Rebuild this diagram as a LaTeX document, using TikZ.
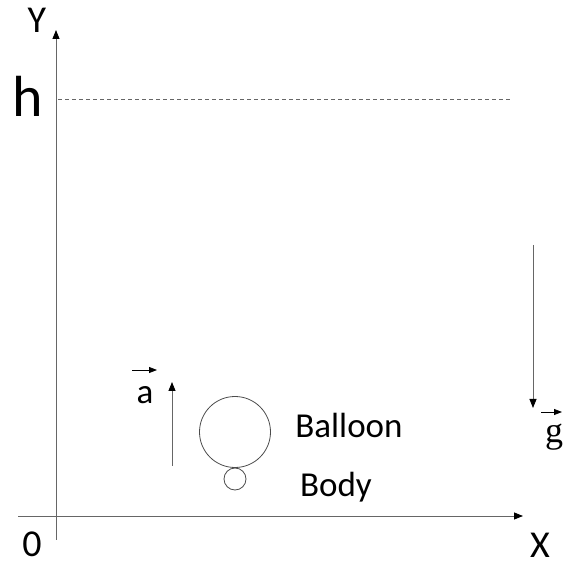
\documentclass[tikz,border=0pt]{standalone}
\usepackage{fontspec}
\setmainfont{Carlito}
\newfontfamily\serifg{Liberation Serif}
\usetikzlibrary{arrows.meta}
\begin{document}
\begin{tikzpicture}[x=1pt,y=1pt,line width=0.8pt,
    inner sep=0pt,
    axis/.style={draw=black!60,-{Triangle[length=9pt,width=7pt,color=black]}},
    vector/.style={draw=black!60,-{Triangle[length=9pt,width=7pt,color=black]}},
    overarrow/.style={draw=black,-{Triangle[length=8pt,width=6pt]}},
    guide/.style={draw=black!60,dash pattern=on 4pt off 3pt},
    body/.style={draw=black!70,circle,minimum size=#1},
    label/.style={font=\fontsize{35}{40}\selectfont},
    axlabel/.style={font=\fontsize{38}{42}\selectfont}]
    \path[use as bounding box] (0,0) rectangle (565,566);
    % axes
    \coordinate (ybot) at (56,26);
    \coordinate (ytop) at (56,536);
    \coordinate (xleft) at (18,50);
    \coordinate (xright) at (523,50);
    \draw[axis] (ybot) -- (ytop);
    \draw[axis] (xleft) -- (xright);
    \node[axlabel] (ylab) at (37,546) {Y};
    \node[axlabel] (xlab) at (540,21) {X};
    \node[axlabel] (orig) at (32,22) {0};
    % height level
    \node[font=\fontsize{58}{62}\selectfont] (hlab) at (28,470) {h};
    \coordinate (hl) at (58,467);
    \coordinate (hr) at (510,467);
    \draw[guide] (hl) -- (hr);
    % balloon and body
    \node[body=71pt] (balloon) at (235,134) {};
    \node[body=22pt] (bd) at (235,87) {};
    \node[label] (blab) at (349,141) {Balloon};
    \node[label] (bdlab) at (336,79) {Body};
    % acceleration
    \coordinate (afoot) at (172,100);
    \coordinate (atip) at (172,184);
    \draw[vector] (afoot) -- (atip);
    \node[label] (alab) at (145,171) {a};
    \draw[overarrow] ([xshift=-13pt,yshift=25pt]alab.center) -- ([xshift=12pt,yshift=25pt]alab.center);
    % gravity
    \coordinate (gfoot) at (533,321);
    \coordinate (gtip) at (533,158);
    \draw[vector] (gfoot) -- (gtip);
    \node[font=\serifg\fontsize{36}{40}\selectfont] (glab) at (554,129) {g};
    \draw[overarrow] ([xshift=-13pt,yshift=25pt]glab.center) -- ([xshift=8pt,yshift=25pt]glab.center);
\end{tikzpicture}
\end{document}
